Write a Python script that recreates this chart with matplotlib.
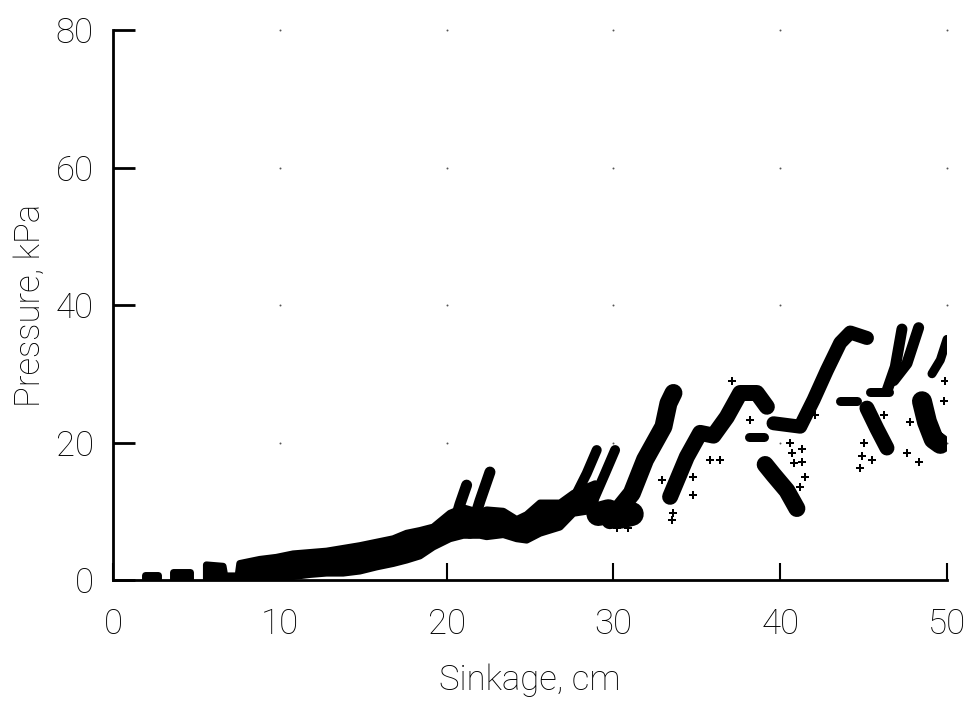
import numpy as np
import matplotlib
matplotlib.use("Agg")
import matplotlib.pyplot as plt

# ---- data ----
x_ticks = [0, 10, 20, 30, 40, 50]
y_ticks = [0, 20, 40, 60, 80]
x_label = "Sinkage, cm"
y_label = "Pressure, kPa"

# low continuous band (lower / upper edge of the point cloud)
band_x  = [1.9, 2.7, 3.1, 3.6, 4.6, 5.1, 5.6, 6.6, 6.7, 7.5, 7.6, 8.8, 9.8, 10.8, 11.8, 12.8, 13.8, 14.8,
           15.8, 16.8, 17.6, 18.4, 19.2, 20.2, 21.0, 22.0, 22.4, 23.4, 24.2, 24.8, 25.6, 26.8, 27.6, 28.4, 28.9]
band_lo = [0.0, 0.0, np.nan, 0.0, 0.0, np.nan, 0.0, 0.0, 0.0, 0.0, 0.0, 0.0, 0.2, 0.5, 0.8, 1.0, 1.0, 1.3,
           1.9, 2.4, 2.9, 3.5, 4.8, 6.0, 6.5, 6.5, 6.3, 6.6, 6.0, 5.8, 6.8, 7.7, 9.7, 10.0, 11.0]
band_hi = [0.7, 0.7, np.nan, 1.2, 1.2, np.nan, 2.2, 2.0, 0.6, 0.6, 2.4, 3.0, 3.3, 3.8, 4.0, 4.2, 4.6, 5.0,
           5.5, 6.0, 6.8, 7.2, 7.7, 9.7, 10.5, 9.8, 10.2, 10.0, 8.8, 9.5, 11.2, 11.2, 12.6, 13.5, 14.0]

# dense strands of points (x, y, visual thickness in px)
spike21a_x = [20.4, 20.8, 21.2];             spike21a_y = [7.7, 11.0, 13.8]
spike21b_x = [21.4, 22.0, 22.6];             spike21b_y = [6.8, 11.5, 15.7]
rise29a_x = [27.8, 28.4, 29.0];              rise29a_y = [12.6, 15.5, 18.9]
rise29b_x = [28.8, 29.5, 30.1];              rise29b_y = [11.6, 15.5, 18.9]
blob30_x = [29.1, 29.7, 30.4, 31.1];         blob30_y = [9.6, 10.0, 9.2, 9.6]
rise33_x = [29.8, 31.1, 31.9, 33.0, 33.3, 33.6]; rise33_y = [8.7, 12.6, 17.5, 22.3, 25.7, 27.2]
rise37_x = [33.4, 34.4, 35.2, 36.0, 36.8, 37.6, 38.6, 39.2]
rise37_y = [12.1, 17.9, 21.4, 21.0, 23.7, 27.2, 27.2, 25.2]
dash21_x = [38.1, 39.0];                     dash21_y = [20.8, 20.8]
desc40_x = [39.1, 39.6, 40.4, 41.0];         desc40_y = [16.8, 15.3, 13.0, 10.4]
rise44_x = [39.6, 41.2, 42.0, 42.8, 43.6, 44.2, 45.2]
rise44_y = [22.8, 22.3, 26.2, 30.5, 34.5, 36.0, 35.2]
dash26_x = [43.6, 44.6];                     dash26_y = [26.0, 26.0]
blob455_x = [45.4, 46.5];                    blob455_y = [27.4, 27.4]
desc46_x = [45.2, 45.8, 46.4];               desc46_y = [25.0, 22.0, 19.2]
rise47a_x = [46.4, 46.9, 47.3];              rise47a_y = [27.5, 31.0, 36.5]
rise47b_x = [46.8, 47.6, 48.3];              rise47b_y = [29.0, 31.5, 36.7]
blob49_x = [48.5, 48.8, 49.2, 49.6];         blob49_y = [26.0, 23.0, 20.5, 19.8]
edge50_x = [49.1, 49.6, 50.0];               edge50_y = [30.0, 32.0, 35.0]

strands = [
    (spike21a_x, spike21a_y, 11), (spike21b_x, spike21b_y, 11),
    (rise29a_x, rise29a_y, 10), (rise29b_x, rise29b_y, 10),
    (blob30_x, blob30_y, 24), (rise33_x, rise33_y, 18),
    (rise37_x, rise37_y, 16), (dash21_x, dash21_y, 9),
    (desc40_x, desc40_y, 17), (rise44_x, rise44_y, 14),
    (dash26_x, dash26_y, 9), (blob455_x, blob455_y, 9),
    (desc46_x, desc46_y, 15), (rise47a_x, rise47a_y, 11),
    (rise47b_x, rise47b_y, 11), (blob49_x, blob49_y, 20),
    (edge50_x, edge50_y, 9),
]

# isolated "+" points
dots_x = [30.2, 30.9, 32.9, 33.6, 33.5, 34.8, 34.8, 35.8, 36.4, 38.2, 39.6, 40.6, 40.7, 40.8, 41.3,
          41.3, 41.5, 41.2, 44.8, 44.9, 45.0, 45.5, 46.2, 47.6, 47.8, 48.3, 49.8, 49.9, 42.1, 37.1]
dots_y = [7.5, 7.5, 14.5, 9.7, 8.7, 15.0, 12.4, 17.5, 17.5, 23.3, 22.8, 20.0, 18.5, 17.0, 19.0,
          17.2, 15.0, 13.5, 16.3, 18.0, 20.0, 17.5, 24.0, 18.5, 23.0, 17.2, 26.0, 29.0, 24.0, 29.0]

# ---- figure ----
fig = plt.figure(figsize=(9.69, 7.19), dpi=100)
ax = fig.add_axes([113 / 969, 1 - 580 / 719, 834 / 969, 550 / 719])
px = 72.0 / 100.0  # points per pixel

ax.fill_between(band_x, band_lo, band_hi, color="black", linewidth=5, edgecolor="black")
for sx, sy, w in strands:
    ax.plot(sx, sy, color="black", linewidth=w * px, solid_capstyle="round",
            solid_joinstyle="round")
ax.scatter(dots_x, dots_y, marker="P", s=30, color="black", linewidths=0)

# dotted grid (dots at grid intersections)
gx, gy = np.meshgrid(x_ticks[1:], y_ticks[1:])
ax.scatter(gx.ravel(), gy.ravel(), s=2, color="#555555", linewidths=0, clip_on=False)

ax.set_xlim(0, 50)
ax.set_ylim(0, 80)
ax.set_xticks(x_ticks)
ax.set_yticks(y_ticks)
for s in ["top", "right"]:
    ax.spines[s].set_visible(False)
for s in ["left", "bottom"]:
    ax.spines[s].set_linewidth(2)
ax.tick_params(axis="y", direction="in", length=16, width=2, pad=14)
ax.tick_params(axis="x", direction="in", length=12, width=1.5, pad=20)

fam = ["Roboto", "DejaVu Sans"]
for lab in ax.get_xticklabels() + ax.get_yticklabels():
    lab.set_fontsize(25)
    lab.set_fontfamily(fam)
    lab.set_fontweight("light")
ax.set_xlabel(x_label, fontsize=25, labelpad=16, family=fam, weight="light")
ax.set_ylabel(y_label, fontsize=25, labelpad=6, family=fam, weight="light")

fig.savefig("out.png", dpi=100)
